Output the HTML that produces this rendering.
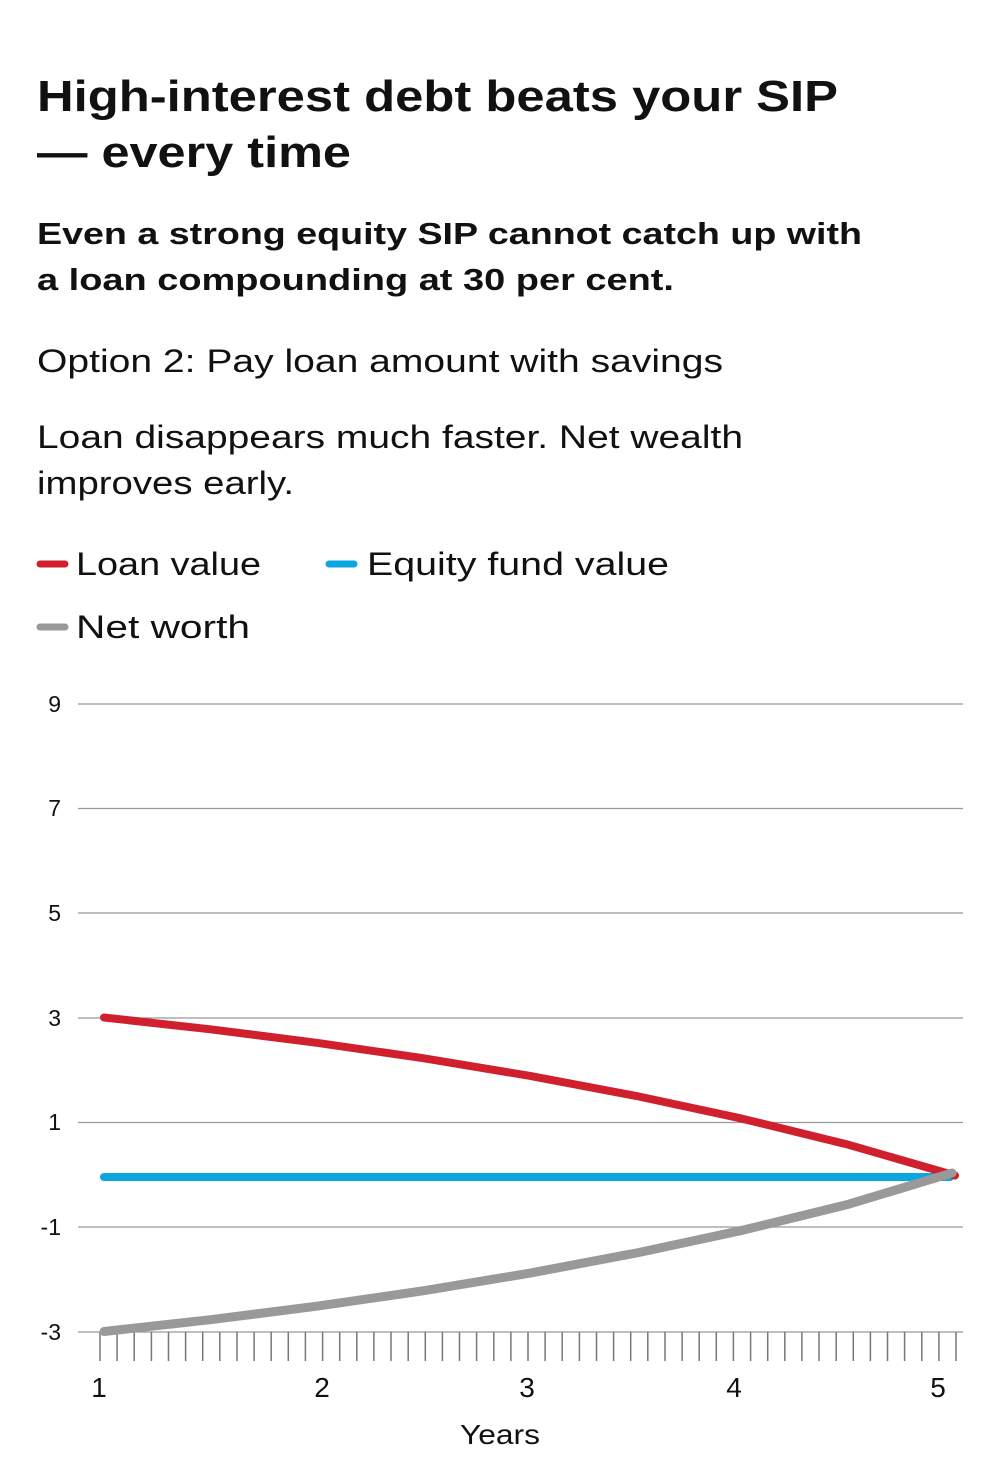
<!DOCTYPE html>
<html><head><meta charset="utf-8"><style>
html,body{margin:0;padding:0;background:#fff;}
svg{display:block;}
text{font-family:"Liberation Sans",sans-serif;fill:#111;}
</style></head><body>
<svg width="1000" height="1480" viewBox="0 0 1000 1480" xmlns="http://www.w3.org/2000/svg">
<rect width="1000" height="1480" fill="#fff"/>
<g font-weight="bold">
<text x="37" y="111" font-size="44" textLength="801" lengthAdjust="spacingAndGlyphs">High-interest debt beats your SIP</text>
<text x="37" y="167" font-size="44" textLength="314" lengthAdjust="spacingAndGlyphs">— every time</text>
<text x="37" y="244" font-size="31" textLength="825" lengthAdjust="spacingAndGlyphs">Even a strong equity SIP cannot catch up with</text>
<text x="37" y="290" font-size="31" textLength="637" lengthAdjust="spacingAndGlyphs">a loan compounding at 30 per cent.</text>
</g>
<g font-size="32" fill="#222">
<text x="37" y="372" textLength="686" lengthAdjust="spacingAndGlyphs">Option 2: Pay loan amount with savings</text>
<text x="37" y="448" textLength="706" lengthAdjust="spacingAndGlyphs">Loan disappears much faster. Net wealth</text>
<text x="37" y="494" textLength="257" lengthAdjust="spacingAndGlyphs">improves early.</text>
<text x="76" y="575" textLength="185" lengthAdjust="spacingAndGlyphs">Loan value</text>
<text x="367" y="575" textLength="302" lengthAdjust="spacingAndGlyphs">Equity fund value</text>
<text x="76" y="638" textLength="174" lengthAdjust="spacingAndGlyphs">Net worth</text>
</g>
<g stroke-width="7" stroke-linecap="round">
<line x1="40" y1="564" x2="65" y2="564" stroke="#d0202e"/>
<line x1="329" y1="564" x2="354" y2="564" stroke="#0aa7e0"/>
<line x1="40" y1="627" x2="65" y2="627" stroke="#999"/>
</g>
<g stroke="#999" stroke-width="1.2">
<line x1="78" y1="704" x2="963" y2="704"/>
<line x1="78" y1="808.5" x2="963" y2="808.5"/>
<line x1="78" y1="913" x2="963" y2="913"/>
<line x1="78" y1="1018" x2="963" y2="1018"/>
<line x1="78" y1="1122.5" x2="963" y2="1122.5"/>
<line x1="78" y1="1227" x2="963" y2="1227"/>
<line x1="78" y1="1332" x2="963" y2="1332"/>
</g>
<g font-size="23" fill="#222" text-anchor="end">
<text x="61" y="712">9</text>
<text x="61" y="816">7</text>
<text x="61" y="921">5</text>
<text x="61" y="1026">3</text>
<text x="61" y="1130">1</text>
<text x="61" y="1235">-1</text>
<text x="61" y="1340">-3</text>
</g>
<path stroke="#777" stroke-width="1.5" fill="none" d="M100 1332V1361M117.1 1332V1361M134.2 1332V1361M151.4 1332V1361M168.5 1332V1361M185.6 1332V1361M202.7 1332V1361M219.8 1332V1361M237 1332V1361M254.1 1332V1361M271.2 1332V1361M288.3 1332V1361M305.4 1332V1361M322.6 1332V1361M339.7 1332V1361M356.8 1332V1361M373.9 1332V1361M391 1332V1361M408.2 1332V1361M425.3 1332V1361M442.4 1332V1361M459.5 1332V1361M476.6 1332V1361M493.8 1332V1361M510.9 1332V1361M528 1332V1361M545.1 1332V1361M562.2 1332V1361M579.4 1332V1361M596.5 1332V1361M613.6 1332V1361M630.7 1332V1361M647.8 1332V1361M665 1332V1361M682.1 1332V1361M699.2 1332V1361M716.3 1332V1361M733.4 1332V1361M750.6 1332V1361M767.7 1332V1361M784.8 1332V1361M801.9 1332V1361M819 1332V1361M836.2 1332V1361M853.3 1332V1361M870.4 1332V1361M887.5 1332V1361M904.6 1332V1361M921.8 1332V1361M938.9 1332V1361M956 1332V1361"/>
<g font-size="28" fill="#222" text-anchor="middle">
<text x="99" y="1397">1</text>
<text x="322" y="1397">2</text>
<text x="527" y="1397">3</text>
<text x="734" y="1397">4</text>
<text x="938" y="1397">5</text>
<text x="500" y="1444" textLength="80" lengthAdjust="spacingAndGlyphs">Years</text>
</g>
<g fill="none" stroke-linecap="round" stroke-linejoin="round">
<line x1="104" y1="1177" x2="950" y2="1177" stroke="#0aa7e0" stroke-width="8"/>
<polyline stroke="#d0202e" stroke-width="8" points="104,1017.5 210.4,1029.3 316.8,1042.8 423.1,1058.2 529.5,1075.8 635.9,1095.9 742.3,1118.7 848.6,1144.8 955,1175.5"/>
<polyline stroke="#999" stroke-width="9" points="104,1331.5 210.4,1319.7 316.8,1306.2 423.1,1290.8 529.5,1273.2 635.9,1253.1 742.3,1230.3 848.6,1204.2 952,1173"/>
</g>
</svg>
</body></html>
